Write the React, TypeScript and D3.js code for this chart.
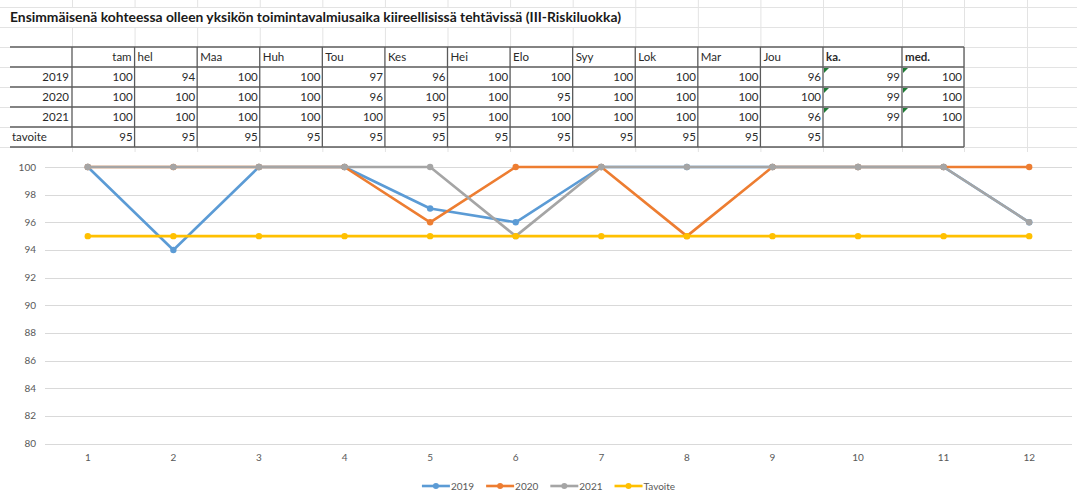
import { useEffect, useRef } from 'react';
import * as d3 from 'd3';

const title =
  'Ensimmäisenä kohteessa olleen yksikön toimintavalmiusaika kiireellisissä tehtävissä (III-Riskiluokka)';

const monthHeaders = ['tam', 'hel', 'Maa', 'Huh', 'Tou', 'Kes', 'Hei', 'Elo', 'Syy', 'Lok', 'Mar', 'Jou'];
const months = ['1', '2', '3', '4', '5', '6', '7', '8', '9', '10', '11', '12'];
const rowLabels = ['2019', '2020', '2021', 'tavoite'];

const values2019 = [100, 94, 100, 100, 97, 96, 100, 100, 100, 100, 100, 96];
const values2020 = [100, 100, 100, 100, 96, 100, 100, 95, 100, 100, 100, 100];
const values2021 = [100, 100, 100, 100, 100, 95, 100, 100, 100, 100, 100, 96];
const valuesTavoite = [95, 95, 95, 95, 95, 95, 95, 95, 95, 95, 95, 95];

const averages = [99, 99, 99, null];
const medians = [100, 100, 100, null];

const yTicks = [80, 82, 84, 86, 88, 90, 92, 94, 96, 98, 100];

const seriesNames = ['2019', '2020', '2021', 'Tavoite'];
const seriesColors = ['#5B9BD5', '#ED7D31', '#A5A5A5', '#FFC000'];

const W = 1077;
const H = 498;
const FONT = 'Lato, "Open Sans", sans-serif';

export default function App() {
  const svgRef = useRef<SVGSVGElement>(null);

  useEffect(() => {
    if (!svgRef.current) return;
    const svg = d3.select(svgRef.current);
    svg.selectAll('*').remove();

    svg.append('rect').attr('width', W).attr('height', H).attr('fill', '#fff');

    // --- sheet layout ---
    const tableLeft = 10;
    const firstColRight = 72;
    const monthsRight = 823;
    const kaRight = 902;
    const tableRight = 964;
    const colX = d3.scaleBand().domain(monthHeaders).range([firstColRight, monthsRight]);
    const rowY = d3.scaleBand().domain(['head', ...rowLabels]).range([47, 147]);
    const rowH = rowY.bandwidth();

    // faint excel gridlines behind everything
    const grid = svg.append('g').attr('stroke', '#e3e3e3').attr('stroke-width', 1);
    const hLines = d3.range(7, 152, rowH);
    grid.selectAll('line.h')
      .data(hLines)
      .join('line')
      .attr('x1', 0)
      .attr('x2', W)
      .attr('y1', (d) => d + 0.5)
      .attr('y2', (d) => d + 0.5);
    const vEdges = [firstColRight, ...monthHeaders.map((m) => (colX(m) || 0) + colX.bandwidth()), kaRight, tableRight, 1027];
    vEdges.forEach((x) => {
      const segs = x > 625 ? [[0, 152]] : [[0, 7], [27, 152]];
      segs.forEach(([a, b]) => {
        grid.append('line').attr('x1', x + 0.5).attr('x2', x + 0.5).attr('y1', a).attr('y2', b);
      });
    });

    // title
    svg.append('text')
      .attr('x', tableLeft)
      .attr('y', 22)
      .attr('font-family', FONT)
      .attr('font-weight', 'bold')
      .attr('font-size', 12.5)
      .attr('fill', '#1a1a1a')
      .attr('textLength', 611)
      .attr('lengthAdjust', 'spacingAndGlyphs')
      .text(title);

    // table
    const table = svg.append('g').attr('font-family', FONT).attr('font-size', 11.5).attr('fill', '#2a2a2a');
    table.append('rect')
      .attr('x', tableLeft)
      .attr('y', 47)
      .attr('width', tableRight - tableLeft)
      .attr('height', 100)
      .attr('fill', '#fff');

    const borders = table.append('g').attr('stroke', '#5a5a5a').attr('stroke-width', 1.3);
    [...rowY.domain().map((r) => rowY(r) || 0), 147].forEach((y) => {
      borders.append('line').attr('x1', tableLeft).attr('x2', tableRight).attr('y1', y).attr('y2', y);
    });
    [firstColRight, ...monthHeaders.map((m) => (colX(m) || 0) + colX.bandwidth()), kaRight, tableRight].forEach((x) => {
      borders.append('line').attr('x1', x).attr('x2', x).attr('y1', 47).attr('y2', 147);
    });

    const headY = (rowY('head') || 0) + rowH / 2 + 4;
    monthHeaders.forEach((m, i) => {
      table.append('text')
        .attr('x', i === 0 ? (colX(m) || 0) + colX.bandwidth() - 3 : (colX(m) || 0) + 3)
        .attr('y', headY)
        .attr('text-anchor', i === 0 ? 'end' : 'start')
        .text(m);
    });
    table.append('text').attr('x', monthsRight + 3).attr('y', headY).attr('font-weight', 'bold').text('ka.');
    table.append('text').attr('x', kaRight + 3).attr('y', headY).attr('font-weight', 'bold').text('med.');

    const rowValues = [values2019, values2020, values2021, valuesTavoite];
    rowLabels.forEach((label, r) => {
      const y = (rowY(label) || 0) + rowH / 2 + 4;
      const isGoal = label === 'tavoite';
      table.append('text')
        .attr('x', isGoal ? tableLeft + 2 : firstColRight - 3)
        .attr('y', y)
        .attr('text-anchor', isGoal ? 'start' : 'end')
        .text(label);
      rowValues[r].forEach((v, i) => {
        table.append('text')
          .attr('x', (colX(monthHeaders[i]) || 0) + colX.bandwidth() - 2)
          .attr('y', y)
          .attr('text-anchor', 'end')
          .text(v);
      });
      const top = rowY(label) || 0;
      if (averages[r] != null) {
        table.append('text').attr('x', kaRight - 2).attr('y', y).attr('text-anchor', 'end').text(String(averages[r]));
        table.append('path')
          .attr('d', `M${monthsRight + 1},${top + 1}h5l-5,5z`)
          .attr('fill', '#1e7b34');
      }
      if (medians[r] != null) {
        table.append('text').attr('x', tableRight - 2).attr('y', y).attr('text-anchor', 'end').text(String(medians[r]));
        table.append('path')
          .attr('d', `M${kaRight + 1},${top + 1}h5l-5,5z`)
          .attr('fill', '#1e7b34');
      }
    });

    // --- chart ---
    const chartTop = 152;
    svg.append('rect').attr('x', 0).attr('y', chartTop).attr('width', W).attr('height', H - chartTop).attr('fill', '#fff');

    const x = d3.scaleBand().domain(months).range([45, 1072]);
    const y = d3.scaleLinear().domain([80, 100]).range([443.5, 167]);
    const cx = (m: string) => (x(m) || 0) + x.bandwidth() / 2;

    const chart = svg.append('g').attr('font-family', FONT).attr('font-size', 10).attr('fill', '#595959');

    chart.selectAll('line.grid')
      .data(yTicks)
      .join('line')
      .attr('x1', 45)
      .attr('x2', 1072)
      .attr('y1', (d) => Math.round(y(d)) + 0.5)
      .attr('y2', (d) => Math.round(y(d)) + 0.5)
      .attr('stroke', '#d9d9d9')
      .attr('stroke-width', 1);

    chart.selectAll('text.ytick')
      .data(yTicks)
      .join('text')
      .attr('x', 36)
      .attr('y', (d) => y(d) + 3.5)
      .attr('text-anchor', 'end')
      .text((d) => d);

    chart.selectAll('text.xtick')
      .data(months)
      .join('text')
      .attr('x', (d) => cx(d))
      .attr('y', 461)
      .attr('text-anchor', 'middle')
      .text((d) => d);

    const line = d3.line<number>()
      .x((_, i) => cx(months[i]))
      .y((d) => y(d));

    const allSeries = [values2019, values2020, values2021, valuesTavoite];
    allSeries.forEach((vals, s) => {
      const g = chart.append('g');
      g.append('path')
        .attr('d', line(vals))
        .attr('fill', 'none')
        .attr('stroke', seriesColors[s])
        .attr('stroke-width', 2.6)
        .attr('stroke-linejoin', 'round');
      g.selectAll('circle')
        .data(vals)
        .join('circle')
        .attr('cx', (_, i) => cx(months[i]))
        .attr('cy', (d) => y(d))
        .attr('r', 3.2)
        .attr('fill', seriesColors[s]);
    });

    // legend
    const legend = chart.append('g');
    const legendY = 486;
    let lx = 0;
    seriesNames.forEach((name, s) => {
      const item = legend.append('g').attr('transform', `translate(${lx},0)`);
      item.append('line')
        .attr('x1', 0)
        .attr('x2', 28)
        .attr('y1', legendY)
        .attr('y2', legendY)
        .attr('stroke', seriesColors[s])
        .attr('stroke-width', 2.6);
      item.append('circle').attr('cx', 14).attr('cy', legendY).attr('r', 3).attr('fill', seriesColors[s]);
      const t = item.append('text').attr('x', 29).attr('y', legendY + 3.5).text(name);
      const tw = (t.node() as SVGTextElement).getComputedTextLength();
      lx += 29 + tw + 12;
    });
    const total = lx - 12;
    legend.attr('transform', `translate(${548.5 - total / 2},0)`);
  }, []);

  return (
    <svg
      ref={svgRef}
      width={W}
      height={H}
      style={{ position: 'absolute', left: 0, top: 0, display: 'block' }}
    />
  );
}
